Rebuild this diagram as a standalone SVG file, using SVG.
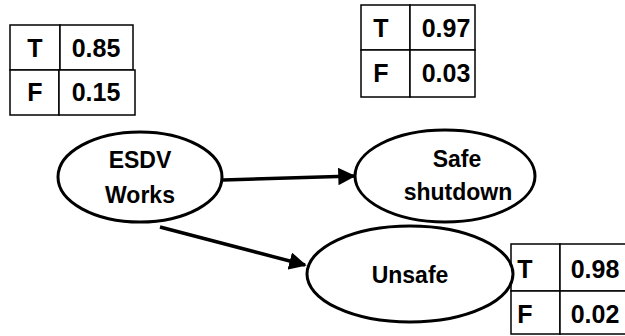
<svg xmlns="http://www.w3.org/2000/svg" width="625" height="336" viewBox="0 0 625 336">
  <style>
    .cell { fill: #ffffff; stroke: #000000; stroke-width: 1.5; }
    .node { fill: #ffffff; stroke: #000000; stroke-width: 3; }
    .edge { stroke: #000000; stroke-width: 3.5; fill: none; }
    text { font-family: "Liberation Sans", Arial, sans-serif; font-weight: bold; fill: #000000; text-anchor: middle; }
    .tv { font-size: 25px; }
    .lbl { font-size: 23px; }
  </style>
  <defs>
    <marker id="arrow" markerWidth="5" markerHeight="5" refX="4.5" refY="2.5" orient="auto" markerUnits="strokeWidth">
      <path d="M0,0 L5,2.5 L0,5 Z" fill="#000000"/>
    </marker>
  </defs>

  <rect x="0" y="0" width="625" height="336" fill="#ffffff"/>

  <!-- probability table for ESDV Works -->
  <g id="table-esdv">
    <rect class="cell" x="10" y="25" width="50" height="45"/>
    <rect class="cell" x="60" y="25" width="73" height="45"/>
    <rect class="cell" x="10" y="70" width="49" height="45"/>
    <rect class="cell" x="59" y="70" width="76" height="45"/>
    <text class="tv" x="35" y="57">T</text>
    <text class="tv" x="96" y="57">0.85</text>
    <text class="tv" x="35" y="101">F</text>
    <text class="tv" x="96" y="101">0.15</text>
  </g>

  <!-- probability table for Safe shutdown -->
  <g id="table-safe">
    <rect class="cell" x="361" y="5" width="49" height="45"/>
    <rect class="cell" x="410" y="5" width="65" height="45"/>
    <rect class="cell" x="361" y="50" width="49" height="47"/>
    <rect class="cell" x="410" y="50" width="65" height="47"/>
    <text class="tv" x="381" y="37">T</text>
    <text class="tv" x="446" y="37">0.97</text>
    <text class="tv" x="381" y="82">F</text>
    <text class="tv" x="446" y="82">0.03</text>
  </g>

  <!-- probability table for Unsafe -->
  <g id="table-unsafe">
    <rect class="cell" x="511" y="244" width="49" height="47"/>
    <rect class="cell" x="560" y="244" width="70" height="47"/>
    <rect class="cell" x="511" y="291" width="49" height="43"/>
    <rect class="cell" x="560" y="291" width="70" height="43"/>
    <text class="tv" x="525" y="278">T</text>
    <text class="tv" x="595" y="278">0.98</text>
    <text class="tv" x="525" y="323">F</text>
    <text class="tv" x="595" y="323">0.02</text>
  </g>

  <!-- connectors -->
  <g id="connectors">
    <line class="edge" x1="223" y1="180" x2="354" y2="176" marker-end="url(#arrow)"/>
    <line class="edge" x1="160" y1="227" x2="305" y2="265" marker-end="url(#arrow)"/>
  </g>

  <g id="node-esdv">
    <ellipse class="node" cx="140" cy="177" rx="82" ry="45"/>
    <text class="lbl" x="140" y="168">ESDV</text>
    <text class="lbl" x="140" y="203">Works</text>
  </g>

  <g id="node-safe">
    <ellipse class="node" cx="445" cy="176" rx="90" ry="46"/>
    <text class="lbl" x="457" y="167">Safe</text>
    <text class="lbl" x="458" y="200">shutdown</text>
  </g>

  <g id="node-unsafe">
    <ellipse class="node" cx="410" cy="274" rx="103" ry="48"/>
    <text class="lbl" x="410" y="283">Unsafe</text>
  </g>
</svg>
